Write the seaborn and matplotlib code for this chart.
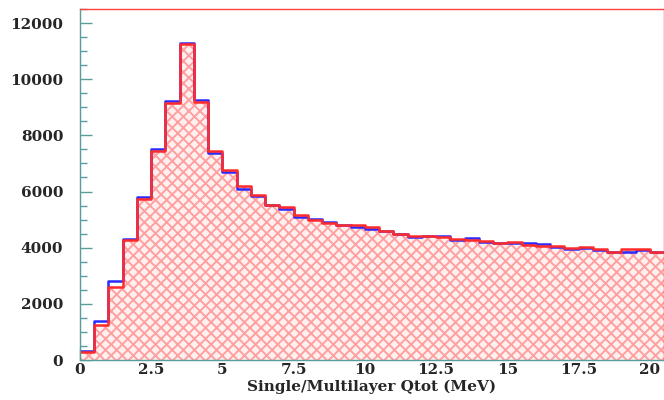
import numpy as np
import pandas as pd
import matplotlib
matplotlib.use("Agg")
import matplotlib.pyplot as plt
import seaborn as sns
from matplotlib.ticker import MultipleLocator

# 0.5 MeV bins from 0 to 20.5 MeV
bin_width = 0.5
bin_range = (0.0, 20.5)

# Counts per bin, single-layer (blue) and multilayer (red) totals
single_counts = [310, 1390, 2820, 4320, 5800, 7500, 9230, 11300, 9260, 7360,
                 6690, 6090, 5850, 5520, 5380, 5100, 5010, 4900, 4800, 4720,
                 4680, 4610, 4500, 4380, 4400, 4430, 4270, 4330, 4210, 4170,
                 4170, 4150, 4120, 4040, 3950, 4000, 3920, 3860, 3860, 3920,
                 3860]
multi_counts = [280, 1260, 2600, 4290, 5720, 7460, 9160, 11270, 9200, 7440,
                6770, 6200, 5870, 5530, 5440, 5160, 5000, 4870, 4800, 4820,
                4750, 4580, 4480, 4400, 4400, 4380, 4300, 4270, 4230, 4150,
                4190, 4100, 4070, 4060, 4000, 4040, 3940, 3860, 3970, 3970,
                3860]

x_ticks = [0, 2.5, 5, 7.5, 10, 12.5, 15, 17.5, 20]
x_tick_labels = ["0", "2.5", "5", "7.5", "10", "12.5", "15", "17.5", "20"]
y_ticks = [0, 2000, 4000, 6000, 8000, 10000, 12000]
y_tick_labels = ["0", "2000", "4000", "6000", "8000", "10000", "12000"]

centers = bin_range[0] + bin_width * (np.arange(len(single_counts)) + 0.5)
df = pd.DataFrame({"qtot": centers, "single": single_counts, "multi": multi_counts})

sns.set_theme(style="white")
plt.rcParams["font.family"] = ["DejaVu Serif"]
plt.rcParams["font.weight"] = "bold"
plt.rcParams["hatch.linewidth"] = 1.4

axis_col = "#5a9c9c"

fig = plt.figure(figsize=(6.64, 4.0), dpi=100)
ax = fig.add_axes([80 / 664, 40 / 400, 584 / 664, 351 / 400])

hist_kw = dict(data=df, x="qtot", binwidth=bin_width, binrange=bin_range,
               element="step", ax=ax)

# hatched fill under the multilayer histogram
sns.histplot(weights="multi", fill=True, facecolor="#fff0f0", edgecolor="#ffa0a0",
             hatch="xxx", linewidth=0, **hist_kw)
# outlines
sns.histplot(weights="single", fill=False, color="#2a2aff", linewidth=1.8, **hist_kw)
sns.histplot(weights="multi", fill=False, color="#ff2a2a", linewidth=1.8, **hist_kw)

ax.set_xlim(0, 20.5)
ax.set_ylim(0, 12500)

ax.set_xticks(x_ticks)
ax.set_xticklabels(x_tick_labels)
ax.set_yticks(y_ticks)
ax.set_yticklabels(y_tick_labels)
ax.xaxis.set_minor_locator(MultipleLocator(0.5))
ax.yaxis.set_minor_locator(MultipleLocator(500))

ax.tick_params(which="both", direction="in", color=axis_col, labelsize=11,
               bottom=True, left=True, top=False, right=False)
ax.tick_params(which="major", length=8.5, width=1)
ax.tick_params(which="minor", length=5, width=1)
ax.tick_params(axis="y", pad=12)
ax.tick_params(axis="x", pad=2)
for lab in ax.get_xticklabels() + ax.get_yticklabels():
    lab.set_fontweight("bold")

ax.set_xlabel("Single/Multilayer Qtot (MeV)", fontsize=11, fontweight="bold",
              labelpad=2)
ax.set_ylabel("")

ax.spines["left"].set_color(axis_col)
ax.spines["bottom"].set_color(axis_col)
ax.spines["top"].set_color("#ff4040")
ax.spines["right"].set_color("#ff4040")
for s in ax.spines.values():
    s.set_linewidth(1.0)

fig.savefig("out.png", dpi=100)
